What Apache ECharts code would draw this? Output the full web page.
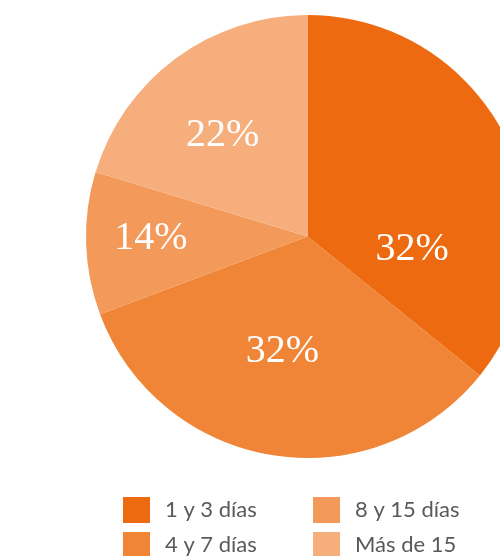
<!DOCTYPE html>
<html>
<head>
<meta charset="utf-8">
<script src="https://cdn.jsdelivr.net/npm/echarts@6/dist/echarts.min.js"></script>
<style>
  html, body { margin: 0; padding: 0; background: #fff; }
  #chart { width: 500px; height: 556px; }
</style>
</head>
<body>
<div id="chart"></div>
<script>
// categorías y valores (ángulos, etiquetas tal como aparecen)
var categories = ['1 y 3 días', '4 y 7 días', '8 y 15 días', 'Más de 15'];
var values = [35.8, 33.5, 10.4, 20.3];
var labels = ['32%', '32%', '14%', '22%'];
var colors = ['#EE6A10', '#F08437', '#F3995A', '#F6AF7C'];

// desplazamiento de cada etiqueta respecto a su posición "inside"
var labelOffsets = [[2, 62], [-7, 3], [-43, -2], [-17, -10]];

var chart = echarts.init(document.getElementById('chart'));

var pieData = categories.map(function (name, i) {
    return {
        name: name,
        value: values[i],
        itemStyle: { color: colors[i] },
        label: { offset: labelOffsets[i] }
    };
});

function legendFor(names, left) {
    return {
        orient: 'vertical',
        left: left,
        top: 497,
        height: 120,
        padding: 0,
        itemWidth: 27,
        itemHeight: 26,
        itemGap: 9,
        icon: 'rect',
        selectedMode: false,
        data: names,
        textStyle: {
            fontFamily: 'Lato',
            fontSize: 22,
            color: '#595959',
            padding: [0, 0, 0, 10]
        }
    };
}

chart.setOption({
    animation: false,
    legend: [
        legendFor([categories[0], categories[1]], 123),
        legendFor([categories[2], categories[3]], 313)
    ],
    series: [{
        type: 'pie',
        center: [307.5, 236.5],
        radius: 221.5,
        startAngle: 90,
        clockwise: true,
        silent: true,
        label: {
            show: true,
            position: 'inside',
            color: '#fff',
            fontFamily: 'Liberation Serif',
            fontSize: 40,
            formatter: function (p) { return labels[p.dataIndex]; }
        },
        labelLine: { show: false },
        data: pieData
    }]
});
</script>
</body>
</html>
